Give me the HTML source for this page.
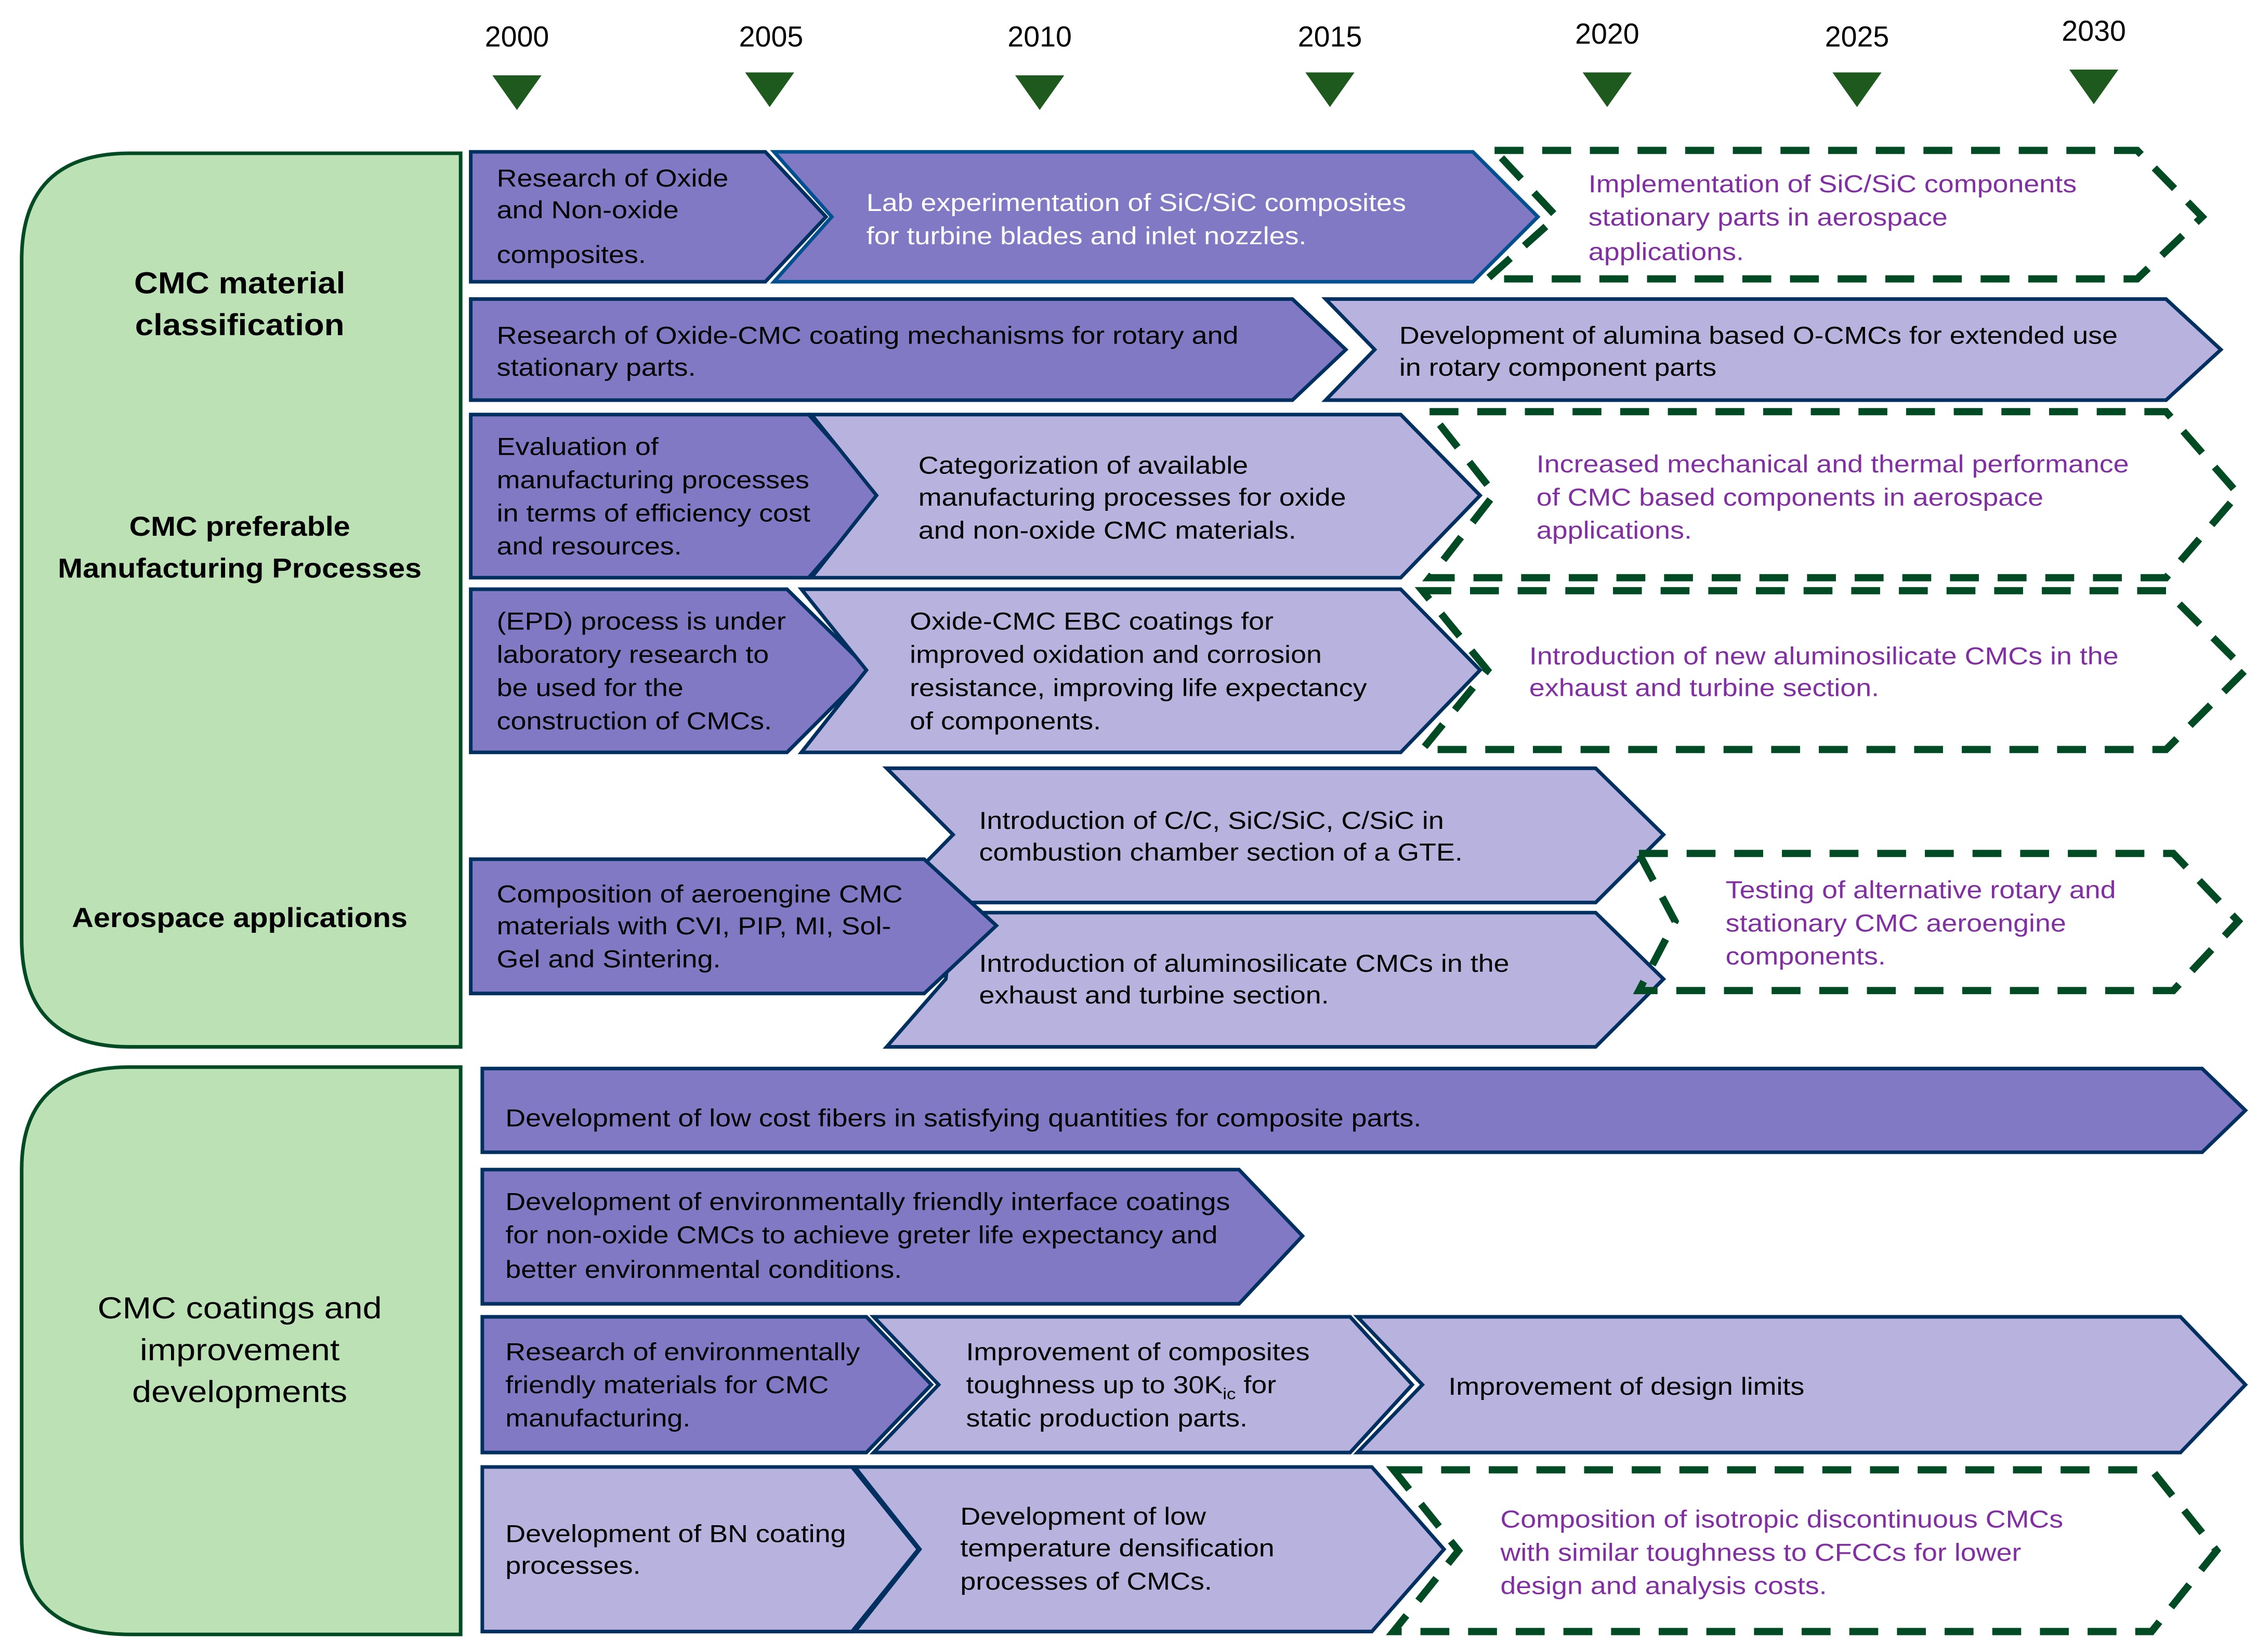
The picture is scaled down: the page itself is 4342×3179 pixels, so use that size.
<!DOCTYPE html>
<html><head><meta charset="utf-8"><style>html,body{margin:0;padding:0;background:#fff}svg{display:block}
svg text{transform-box:fill-box;transform-origin:0 50%}
.w text{transform:scaleX(1.14)}
.c text{transform-origin:50% 50%;transform:scaleX(1.14)}
.b text{transform-origin:50% 50%;transform:scaleX(1.09)}
</style></head>
<body>
<svg xmlns="http://www.w3.org/2000/svg" width="4342" height="3179" viewBox="0 0 1563 1144" font-family="Liberation Sans, Arial, sans-serif" font-size="17">
<rect width="1563" height="1144" fill="#fff"/>
<g font-size="20" text-anchor="middle" fill="#000">
<text x="358" y="32">2000</text><text x="534" y="32">2005</text><text x="720" y="32">2010</text><text x="921" y="32">2015</text><text x="1113" y="30">2020</text><text x="1286" y="32">2025</text><text x="1450" y="28">2030</text>
</g>
<g fill="#1e5a1e">
<polygon points="341,52 375,52 358,76"/><polygon points="516,50 550,50 533,74"/><polygon points="703,52 737,52 720,76"/><polygon points="904,50 938,50 921,74"/><polygon points="1096,50 1130,50 1113,74"/><polygon points="1269,50 1303,50 1286,74"/><polygon points="1433,48 1467,48 1450,72"/>
</g>
<path d="M319,106 L319,725 L90,725 Q15,725 15,650 L15,180 Q15,106 90,106 Z" fill="#bbe1b5" stroke="#004b23" stroke-width="2.5"/>
<path d="M319,739 L319,1132 L90,1132 Q15,1132 15,1065 L15,810 Q15,739 90,739 Z" fill="#bbe1b5" stroke="#004b23" stroke-width="2.5"/>
<g class="b" font-weight="bold" text-anchor="middle" fill="#000">
<text x="166" y="203" font-size="21">CMC material</text><text x="166" y="232" font-size="21">classification</text>
<text x="166" y="371" font-size="19">CMC preferable</text><text x="166" y="400" font-size="19">Manufacturing Processes</text>
<text x="166" y="642" font-size="19">Aerospace applications</text>
</g>
<g class="c" text-anchor="middle" font-size="21"><text x="166" y="913">CMC coatings and</text><text x="166" y="942">improvement</text><text x="166" y="971">developments</text></g>

<g stroke-width="2.5" stroke-linejoin="miter">
<polygon points="326,105 530,105 572,150 530,195 326,195" fill="#8179c4" stroke="#003060"/>
<polygon points="536,105 1020,105 1065,150 1020,195 536,195 576,150" fill="#8179c4" stroke="#005090"/>
<polygon points="326,207 895,207 932,242 895,277 326,277" fill="#8179c4" stroke="#003060"/>
<polygon points="918,207 1500,207 1538,242 1500,277 918,277 952,242" fill="#b8b3de" stroke="#003060"/>
<polygon points="326,287 560,287 610,343 560,400 326,400" fill="#8179c4" stroke="#003060"/>
<polygon points="562,287 970,287 1025,343 970,400 562,400 607,343" fill="#b8b3de" stroke="#003060"/>
<polygon points="326,408 545,408 602,464 545,521 326,521" fill="#8179c4" stroke="#003060"/>
<polygon points="555,408 970,408 1025,464 970,521 555,521 600,464" fill="#b8b3de" stroke="#003060"/>
<polygon points="614,532 1105,532 1152,578 1105,625 614,625 660,578" fill="#b8b3de" stroke="#003060"/>
<polygon points="660,632 1105,632 1152,678 1105,725 614,725 655,678" fill="#b8b3de" stroke="#003060"/>
<polygon points="326,595 640,595 690,641 640,688 326,688" fill="#8179c4" stroke="#003060"/>
<polygon points="334,740 1525,740 1555,769 1525,798 334,798" fill="#8179c4" stroke="#003060"/>
<polygon points="334,810 858,810 902,856 858,903 334,903" fill="#8179c4" stroke="#003060"/>
<polygon points="334,912 600,912 645,959 600,1006 334,1006" fill="#8179c4" stroke="#003060"/>
<polygon points="605,912 935,912 978,959 935,1006 605,1006 650,959" fill="#b8b3de" stroke="#003060"/>
<polygon points="940,912 1510,912 1555,959 1510,1006 940,1006 985,959" fill="#b8b3de" stroke="#003060"/>
<polygon points="334,1016 590,1016 636,1073 590,1130 334,1130" fill="#b8b3de" stroke="#003060"/>
<polygon points="592,1016 950,1016 1000,1073 950,1130 592,1130 637,1073" fill="#b8b3de" stroke="#003060"/>
</g>
<g fill="none" stroke="#004b23" stroke-width="5" stroke-dasharray="20,13">
<polygon points="1035,104 1480,104 1525,150 1480,193 1030,193 1078,150"/>
<polygon points="990,285 1500,285 1550,342 1500,400 990,400 1035,342"/>
<polygon points="985,409 1500,409 1555,464 1500,519 985,519 1030,464"/>
<polygon points="1135,591 1505,591 1550,638 1505,686 1135,686 1160,638"/>
<polygon points="965,1018 1490,1018 1535,1074 1490,1130 965,1130 1010,1074"/>
</g>

<g class="w" fill="#000">
<text x="344" y="129">Research of Oxide</text><text x="344" y="151">and Non-oxide</text><text x="344" y="182">composites.</text>
<text x="344" y="238">Research of Oxide-CMC coating mechanisms for rotary and</text><text x="344" y="260">stationary parts.</text>
<text x="969" y="238">Development of alumina based O-CMCs for extended use</text><text x="969" y="260">in rotary component parts</text>
<text x="344" y="315">Evaluation of</text><text x="344" y="338">manufacturing processes</text><text x="344" y="361">in terms of efficiency cost</text><text x="344" y="384">and resources.</text>
<text x="636" y="328">Categorization of available</text><text x="636" y="350">manufacturing processes for oxide</text><text x="636" y="373">and non-oxide CMC materials.</text>
<text x="344" y="436">(EPD) process is under</text><text x="344" y="459">laboratory research to</text><text x="344" y="482">be used for the</text><text x="344" y="505">construction of CMCs.</text>
<text x="630" y="436">Oxide-CMC EBC coatings for</text><text x="630" y="459">improved oxidation and corrosion</text><text x="630" y="482">resistance, improving life expectancy</text><text x="630" y="505">of components.</text>
<text x="678" y="574">Introduction of C/C, SiC/SiC, C/SiC in</text><text x="678" y="596">combustion chamber section of a GTE.</text>
<text x="344" y="625">Composition of aeroengine CMC</text><text x="344" y="647">materials with CVI, PIP, MI, Sol-</text><text x="344" y="670">Gel and Sintering.</text>
<text x="678" y="673">Introduction of aluminosilicate CMCs in the</text><text x="678" y="695">exhaust and turbine section.</text>
<text x="350" y="780">Development of low cost fibers in satisfying quantities for composite parts.</text>
<text x="350" y="838">Development of environmentally friendly interface coatings</text><text x="350" y="861">for non-oxide CMCs to achieve greter life expectancy and</text><text x="350" y="885">better environmental conditions.</text>
<text x="350" y="942">Research of environmentally</text><text x="350" y="965">friendly materials for CMC</text><text x="350" y="988">manufacturing.</text>
<text x="669" y="942">Improvement of composites</text><text x="669" y="965">toughness up to 30K<tspan font-size="11" dy="4">ic</tspan><tspan dy="-4"> for</tspan></text><text x="669" y="988">static production parts.</text>
<text x="1003" y="966">Improvement of design limits</text>
<text x="350" y="1068">Development of BN coating</text><text x="350" y="1090">processes.</text>
<text x="665" y="1056">Development of low</text><text x="665" y="1078">temperature densification</text><text x="665" y="1101">processes of CMCs.</text>
</g>
<g class="w" fill="#fff"><text x="600" y="146">Lab experimentation of SiC/SiC composites</text><text x="600" y="169">for turbine blades and inlet nozzles.</text></g>
<g class="w" fill="#8030a0">
<text x="1100" y="133">Implementation of SiC/SiC components</text><text x="1100" y="156">stationary parts in aerospace</text><text x="1100" y="180">applications.</text>
<text x="1064" y="327">Increased mechanical and thermal performance</text><text x="1064" y="350">of CMC based components in aerospace</text><text x="1064" y="373">applications.</text>
<text x="1059" y="460">Introduction of  new aluminosilicate CMCs in the</text><text x="1059" y="482">exhaust and turbine section.</text>
<text x="1195" y="622">Testing of alternative rotary and</text><text x="1195" y="645">stationary CMC aeroengine</text><text x="1195" y="668">components.</text>
<text x="1039" y="1058">Composition of isotropic discontinuous CMCs</text><text x="1039" y="1081">with similar toughness to CFCCs for lower</text><text x="1039" y="1104">design and analysis costs.</text>
</g>
</svg>
</body></html>
